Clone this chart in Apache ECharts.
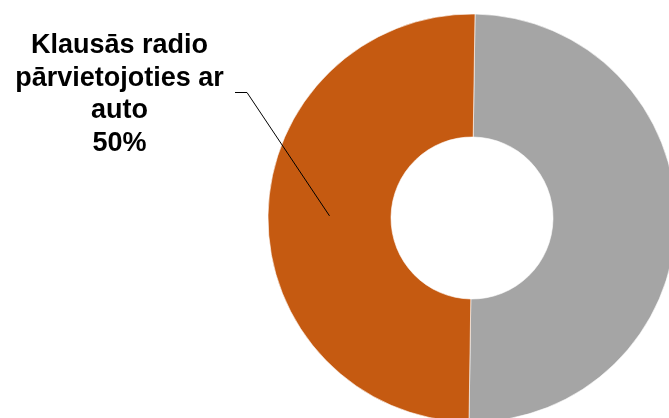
<!DOCTYPE html>
<html>
<head>
<meta charset="utf-8">
<script src="https://cdn.jsdelivr.net/npm/echarts@6/dist/echarts.min.js"></script>
<style>
  html, body { margin: 0; padding: 0; background: #ffffff; }
  #chart { width: 669px; height: 418px; }
</style>
</head>
<body>
<div id="chart"></div>
<script>
// Slice names and shares (gray slice first, clockwise from the top)
const categories = ['Neklausās radio pārvietojoties ar auto', 'Klausās radio\npārvietojoties ar\nauto'];
const values = [50, 50];
const colors = ['#A5A5A5', '#C55A11'];
const labelled = [false, true];

// Ring geometry
const CENTER = [472, 218];
const R_IN = 81;
const R_OUT = 204;
const START_ANGLE = 89.15;

const total = values.reduce((a, b) => a + b, 0);

// Angle (degrees, math orientation) at the middle of slice i, going clockwise from START_ANGLE
function midAngle(i) {
  let before = 0;
  for (let k = 0; k < i; k++) before += values[k];
  return START_ANGLE - ((before + values[i] / 2) / total) * 360;
}

const chart = echarts.init(document.getElementById('chart'), null, { renderer: 'canvas' });

const baseSeries = {
  type: 'pie',
  center: CENTER,
  radius: [R_IN, R_OUT],
  startAngle: START_ANGLE,
  clockwise: true,
  avoidLabelOverlap: false,
  silent: true
};

chart.setOption({
  backgroundColor: '#ffffff',
  animation: false,
  series: [
    // The coloured ring
    Object.assign({}, baseSeries, {
      z: 2,
      itemStyle: { borderColor: '#ffffff', borderWidth: 0.6 },
      label: { show: false },
      labelLine: { show: false },
      data: categories.map((name, i) => ({
        name: name,
        value: values[i],
        itemStyle: { color: colors[i] }
      }))
    }),
    // Transparent copy on top that carries the data label and its leader line
    Object.assign({}, baseSeries, {
      z: 3,
      itemStyle: { color: 'rgba(0,0,0,0)' },
      label: {
        show: true,
        position: 'outside',
        formatter: '{b}\n{d}%',
        fontFamily: 'Liberation Sans, Arial, sans-serif',
        fontWeight: 'bold',
        fontSize: 27,
        lineHeight: 32.5,
        color: '#000000',
        align: 'center',
        overflow: 'none'
      },
      labelLine: {
        show: true,
        length: 5,
        length2: 5,
        smooth: false,
        lineStyle: { color: '#000000', width: 1 }
      },
      labelLayout: function (params) {
        const i = params.dataIndex;
        if (!labelled[i]) return {};
        const a = midAngle(i) * Math.PI / 180;
        const rMid = (R_IN + R_OUT) / 2;
        const start = [CENTER[0] + rMid * Math.cos(a), CENTER[1] - rMid * Math.sin(a)];
        return {
          x: 119.5,
          y: 94.5,
          align: 'center',
          verticalAlign: 'middle',
          labelLinePoints: [start, [247, 92.5], [235, 92.5]]
        };
      },
      data: categories.map((name, i) => ({
        name: name,
        value: values[i],
        label: { show: labelled[i] },
        labelLine: { show: labelled[i] }
      }))
    })
  ]
});
</script>
</body>
</html>
